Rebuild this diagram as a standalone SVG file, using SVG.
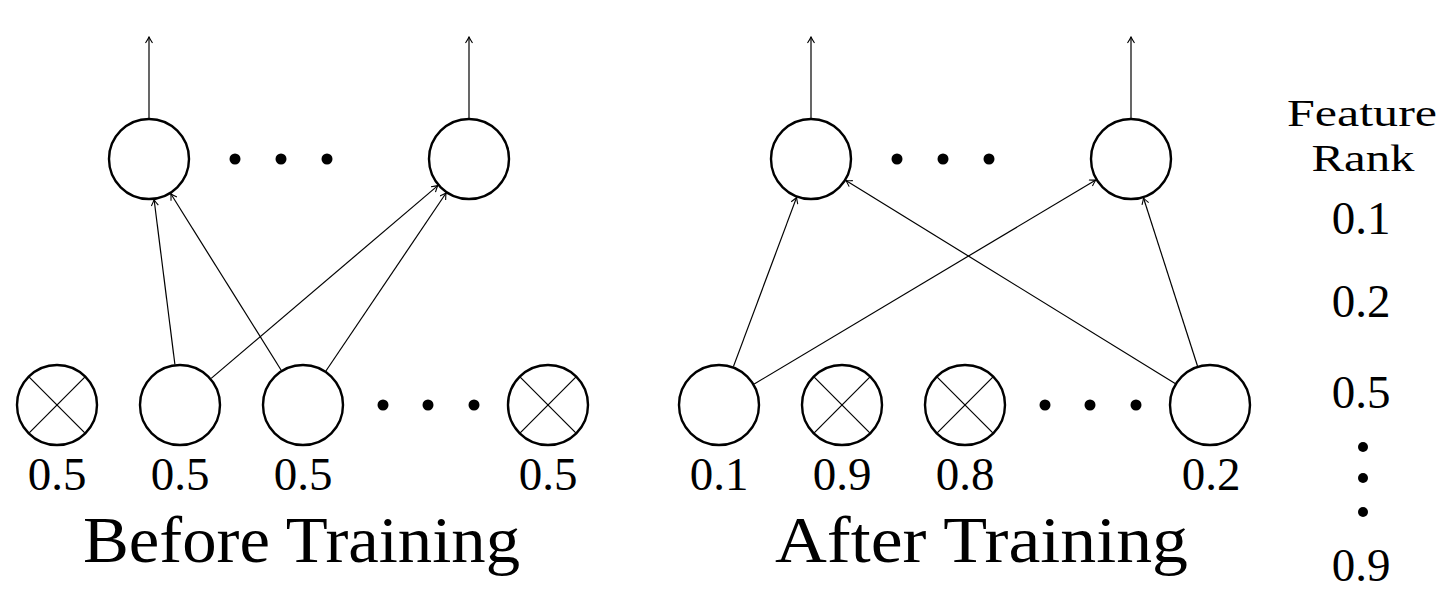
<svg xmlns="http://www.w3.org/2000/svg" width="1446" height="606" viewBox="0 0 1446 606">
<defs>
<style>
.node{fill:#fff;stroke:#000;stroke-width:2.4}
.x{stroke:#000;stroke-width:1.2}
.edge{stroke:#000;stroke-width:1.2;fill:none;marker-end:url(#arr)}
.dot{fill:#000}
text{font-family:'Liberation Serif','Times New Roman',Times,serif;fill:#000;text-anchor:middle}
.lbl{font-size:47px}
.head{font-size:38px}
.title{font-size:66px}
</style>
<marker id="arr" viewBox="-7 -4 8 8" markerWidth="8" markerHeight="8" refX="0" refY="0" orient="auto" markerUnits="userSpaceOnUse">
<path d="M -6 -3.5 Q -2 -0.9 0 0 Q -2 0.9 -6 3.5" fill="none" stroke="#000" stroke-width="1.1"/>
</marker>
</defs>
<rect width="1446" height="606" fill="#fff"/>

<g id="connectors">
<line class="edge" x1="149" y1="118" x2="149" y2="37"/>
<line class="edge" x1="469" y1="118" x2="469" y2="37"/>
<line class="edge" x1="174.9" y1="364.3" x2="154.1" y2="199.7"/>
<line class="edge" x1="281.2" y1="370.2" x2="170.8" y2="193.8"/>
<line class="edge" x1="211.2" y1="378.4" x2="437.8" y2="185.6"/>
<line class="edge" x1="325.9" y1="371.0" x2="446.1" y2="193.0"/>
<line class="edge" x1="811" y1="118" x2="811" y2="37"/>
<line class="edge" x1="1131" y1="118" x2="1131" y2="37"/>
<line class="edge" x1="733.4" y1="366.6" x2="796.6" y2="197.4"/>
<line class="edge" x1="754.2" y1="384.0" x2="1095.8" y2="180.0"/>
<line class="edge" x1="1175.1" y1="383.5" x2="845.9" y2="180.5"/>
<line class="edge" x1="1197.5" y1="366.0" x2="1143.5" y2="198.0"/>
</g>

<g id="before-out1"><circle class="node" cx="149" cy="159" r="40"/></g>
<g id="before-out-dots"><circle class="dot" cx="235" cy="159" r="5.5"/><circle class="dot" cx="281" cy="159" r="5.5"/><circle class="dot" cx="327" cy="159" r="5.5"/></g>
<g id="before-out2"><circle class="node" cx="469" cy="159" r="40"/></g>

<g id="before-in1"><circle class="node" cx="57" cy="405" r="40"/><line class="x" x1="28.7" y1="376.7" x2="85.3" y2="433.3"/><line class="x" x1="28.7" y1="433.3" x2="85.3" y2="376.7"/><text class="lbl" x="57" y="490">0.5</text></g>
<g id="before-in2"><circle class="node" cx="180" cy="405" r="40"/><text class="lbl" x="180" y="490">0.5</text></g>
<g id="before-in3"><circle class="node" cx="303" cy="405" r="40"/><text class="lbl" x="303" y="490">0.5</text></g>
<g id="before-in-dots"><circle class="dot" cx="383" cy="405" r="5.5"/><circle class="dot" cx="428" cy="405" r="5.5"/><circle class="dot" cx="474" cy="405" r="5.5"/></g>
<g id="before-in4"><circle class="node" cx="548" cy="405" r="40"/><line class="x" x1="519.7" y1="376.7" x2="576.3" y2="433.3"/><line class="x" x1="519.7" y1="433.3" x2="576.3" y2="376.7"/><text class="lbl" x="548" y="490">0.5</text></g>
<g id="before-title"><text class="title" x="301.5" y="562" textLength="437" lengthAdjust="spacingAndGlyphs">Before Training</text></g>

<g id="after-out1"><circle class="node" cx="811" cy="159" r="40"/></g>
<g id="after-out-dots"><circle class="dot" cx="897" cy="159" r="5.5"/><circle class="dot" cx="943" cy="159" r="5.5"/><circle class="dot" cx="989" cy="159" r="5.5"/></g>
<g id="after-out2"><circle class="node" cx="1131" cy="159" r="40"/></g>

<g id="after-in1"><circle class="node" cx="719" cy="405" r="40"/><text class="lbl" x="719" y="490">0.1</text></g>
<g id="after-in2"><circle class="node" cx="842" cy="405" r="40"/><line class="x" x1="813.7" y1="376.7" x2="870.3" y2="433.3"/><line class="x" x1="813.7" y1="433.3" x2="870.3" y2="376.7"/><text class="lbl" x="842" y="490">0.9</text></g>
<g id="after-in3"><circle class="node" cx="965" cy="405" r="40"/><line class="x" x1="936.7" y1="376.7" x2="993.3" y2="433.3"/><line class="x" x1="936.7" y1="433.3" x2="993.3" y2="376.7"/><text class="lbl" x="965" y="490">0.8</text></g>
<g id="after-in-dots"><circle class="dot" cx="1045" cy="405" r="5.5"/><circle class="dot" cx="1090" cy="405" r="5.5"/><circle class="dot" cx="1136" cy="405" r="5.5"/></g>
<g id="after-in4"><circle class="node" cx="1210" cy="405" r="40"/><text class="lbl" x="1211" y="490">0.2</text></g>
<g id="after-title"><text class="title" x="981.5" y="562" textLength="413" lengthAdjust="spacingAndGlyphs">After Training</text></g>

<g id="feature-rank">
<text class="head" x="1362" y="126" textLength="150" lengthAdjust="spacingAndGlyphs">Feature</text>
<text class="head" x="1363" y="171" textLength="103" lengthAdjust="spacingAndGlyphs">Rank</text>
<text class="lbl" x="1361" y="234">0.1</text>
<text class="lbl" x="1361" y="317">0.2</text>
<text class="lbl" x="1361" y="408">0.5</text>
<circle class="dot" cx="1363" cy="447" r="5"/>
<circle class="dot" cx="1363" cy="478" r="5"/>
<circle class="dot" cx="1363" cy="512" r="5"/>
<text class="lbl" x="1361" y="581">0.9</text>
</g>
</svg>
